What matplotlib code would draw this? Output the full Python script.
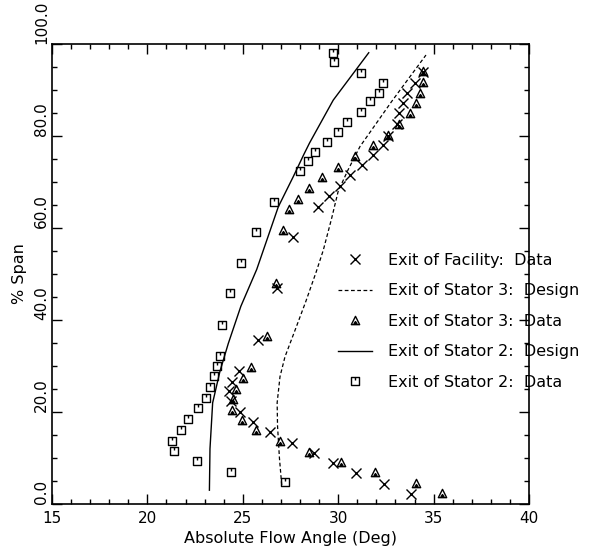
import matplotlib
matplotlib.use('Agg')
import matplotlib.pyplot as plt
from matplotlib.path import Path
from matplotlib.ticker import MultipleLocator, FormatStrFormatter

# ---------------- data ----------------
fac_x = [33.80, 32.38, 30.95, 29.74, 28.74, 27.57, 26.43, 25.53, 24.87, 24.40,
         24.30, 24.42, 24.78, 25.81, 26.81, 27.61, 28.96, 29.50, 30.09, 30.64,
         31.27, 31.84, 32.33, 32.63, 33.06, 33.20, 33.40, 33.62, 34.04, 34.42]
fac_y = [2.2, 4.4, 6.7, 8.9, 11.1, 13.2, 15.6, 17.8, 20.0, 22.4,
         24.5, 26.6, 28.9, 35.6, 46.9, 58.0, 64.6, 67.0, 69.2, 71.5,
         73.6, 75.9, 78.0, 80.1, 82.6, 85.0, 87.1, 89.4, 91.6, 94.0]

s3_data_x = [35.44, 34.07, 31.91, 30.13, 28.48, 26.97, 25.69, 24.94, 24.45, 24.50,
             24.66, 25.02, 25.44, 26.25, 26.74, 27.12, 27.42, 27.91, 28.49, 29.15,
             30.01, 30.88, 31.84, 32.63, 33.17, 33.75, 34.09, 34.28, 34.42, 34.46]
s3_data_y = [2.5, 4.6, 6.9, 9.2, 11.4, 13.8, 16.0, 18.3, 20.5, 22.8,
             25.0, 27.3, 29.8, 36.6, 48.1, 59.6, 64.1, 66.2, 68.6, 71.0,
             73.3, 75.7, 78.0, 80.2, 82.5, 84.9, 87.1, 89.4, 91.7, 94.1]

s3_design_x = [27.04, 26.92, 26.82, 26.80, 26.95, 27.21, 27.74, 28.30, 28.85, 29.22,
               29.65, 30.00, 30.50, 31.14, 32.80, 34.60]
s3_design_y = [4.1, 10.0, 17.0, 22.0, 27.7, 32.0, 37.8, 44.0, 50.5, 55.2,
               62.0, 68.0, 72.5, 77.7, 87.5, 97.6]

s2_design_x = [23.25, 23.28, 23.42, 23.80, 24.24, 24.90, 25.73, 26.86, 27.65, 28.20,
               28.50, 29.74, 31.60]
s2_design_y = [3.0, 12.0, 22.0, 28.8, 34.9, 43.0, 51.0, 64.6, 71.2, 76.0,
               78.5, 87.8, 98.1]

s2_data_x = [27.23, 24.38, 22.58, 21.39, 21.27, 21.75, 22.14, 22.67, 23.06, 23.28,
             23.49, 23.63, 23.81, 23.93, 24.33, 24.91, 25.69, 26.64, 27.98, 28.42,
             28.78, 29.40, 30.01, 30.45, 31.19, 31.67, 32.15, 32.36, 31.19, 29.80, 29.71]
s2_data_y = [4.7, 7.0, 9.3, 11.6, 13.8, 16.1, 18.5, 20.8, 23.1, 25.5,
             27.8, 30.0, 32.2, 38.9, 45.8, 52.3, 59.1, 65.7, 72.3, 74.6,
             76.6, 78.8, 80.9, 83.1, 85.3, 87.5, 89.4, 91.6, 93.8, 96.0, 98.1]

labels = ["Exit of Facility:  Data",
          "Exit of Stator 3:  Design",
          "Exit of Stator 3:  Data",
          "Exit of Stator 2:  Design",
          "Exit of Stator 2:  Data"]

x_ticks = [15, 20, 25, 30, 35, 40]
y_ticks = [0, 20, 40, 60, 80, 100]

# ---------------- markers ----------------
sq_marker = Path([(-1, -1), (1, -1), (1, 1), (-1, 1), (-1, -1), (0, 1), (0, 0.3)],
                 [Path.MOVETO, Path.LINETO, Path.LINETO, Path.LINETO, Path.CLOSEPOLY,
                  Path.MOVETO, Path.LINETO])
tri_marker = Path([(0, 1), (-1, -1), (1, -1), (0, 1),
                   (0, -0.25), (-0.35, -0.75), (0.35, -0.75), (0, -0.25)],
                  [Path.MOVETO, Path.LINETO, Path.LINETO, Path.CLOSEPOLY,
                   Path.MOVETO, Path.LINETO, Path.LINETO, Path.CLOSEPOLY])

plt.rcParams['font.family'] = ['DejaVu Sans']

fig = plt.figure(figsize=(5.9, 5.51), dpi=100)
ax = fig.add_axes([52 / 590, 1 - 504 / 551, 477 / 590, 460 / 551])

h1, = ax.plot(fac_x, fac_y, linestyle='none', marker='x', markersize=7,
              mew=1.0, color='black')
h2, = ax.plot(s3_design_x, s3_design_y, linestyle=(0, (3, 2)), lw=0.9, color='black')
h3, = ax.plot(s3_data_x, s3_data_y, linestyle='none', marker=tri_marker, markersize=6,
              mfc='none', mec='black', mew=1.0)
h4, = ax.plot(s2_design_x, s2_design_y, linestyle='-', lw=1.0, color='black')
h5, = ax.plot(s2_data_x, s2_data_y, linestyle='none', marker=sq_marker, markersize=6,
              mfc='none', mec='black', mew=1.0)

ax.set_xlim(15, 40)
ax.set_ylim(0, 100)
ax.set_xticks(x_ticks)
ax.set_yticks(y_ticks)
ax.xaxis.set_minor_locator(MultipleLocator(1))
ax.yaxis.set_minor_locator(MultipleLocator(5))
ax.yaxis.set_major_formatter(FormatStrFormatter('%.1f'))
ax.tick_params(which='both', direction='in', top=True, right=True, width=1.0,
               labelsize=11)
ax.tick_params(axis='x', pad=5)
ax.tick_params(axis='y', pad=2)
ax.tick_params(which='major', length=7)
ax.tick_params(which='minor', length=3.5)
for lab in ax.get_yticklabels():
    lab.set_rotation(90)
    lab.set_va('bottom')
    lab.set_ha('right')
for sp in ax.spines.values():
    sp.set_linewidth(1.2)

ax.set_xlabel('Absolute Flow Angle (Deg)', fontsize=11.5, labelpad=4)
ax.set_ylabel('% Span', fontsize=11.5, labelpad=5)

ax.legend([h1, h2, h3, h4, h5], labels, loc='upper left',
          bbox_to_anchor=(0.600, 0.546), frameon=False, fontsize=11.5,
          handlelength=2.1, handletextpad=1.0, labelspacing=0.97,
          borderpad=0, borderaxespad=0, numpoints=1)

fig.savefig('out.png', dpi=100)
